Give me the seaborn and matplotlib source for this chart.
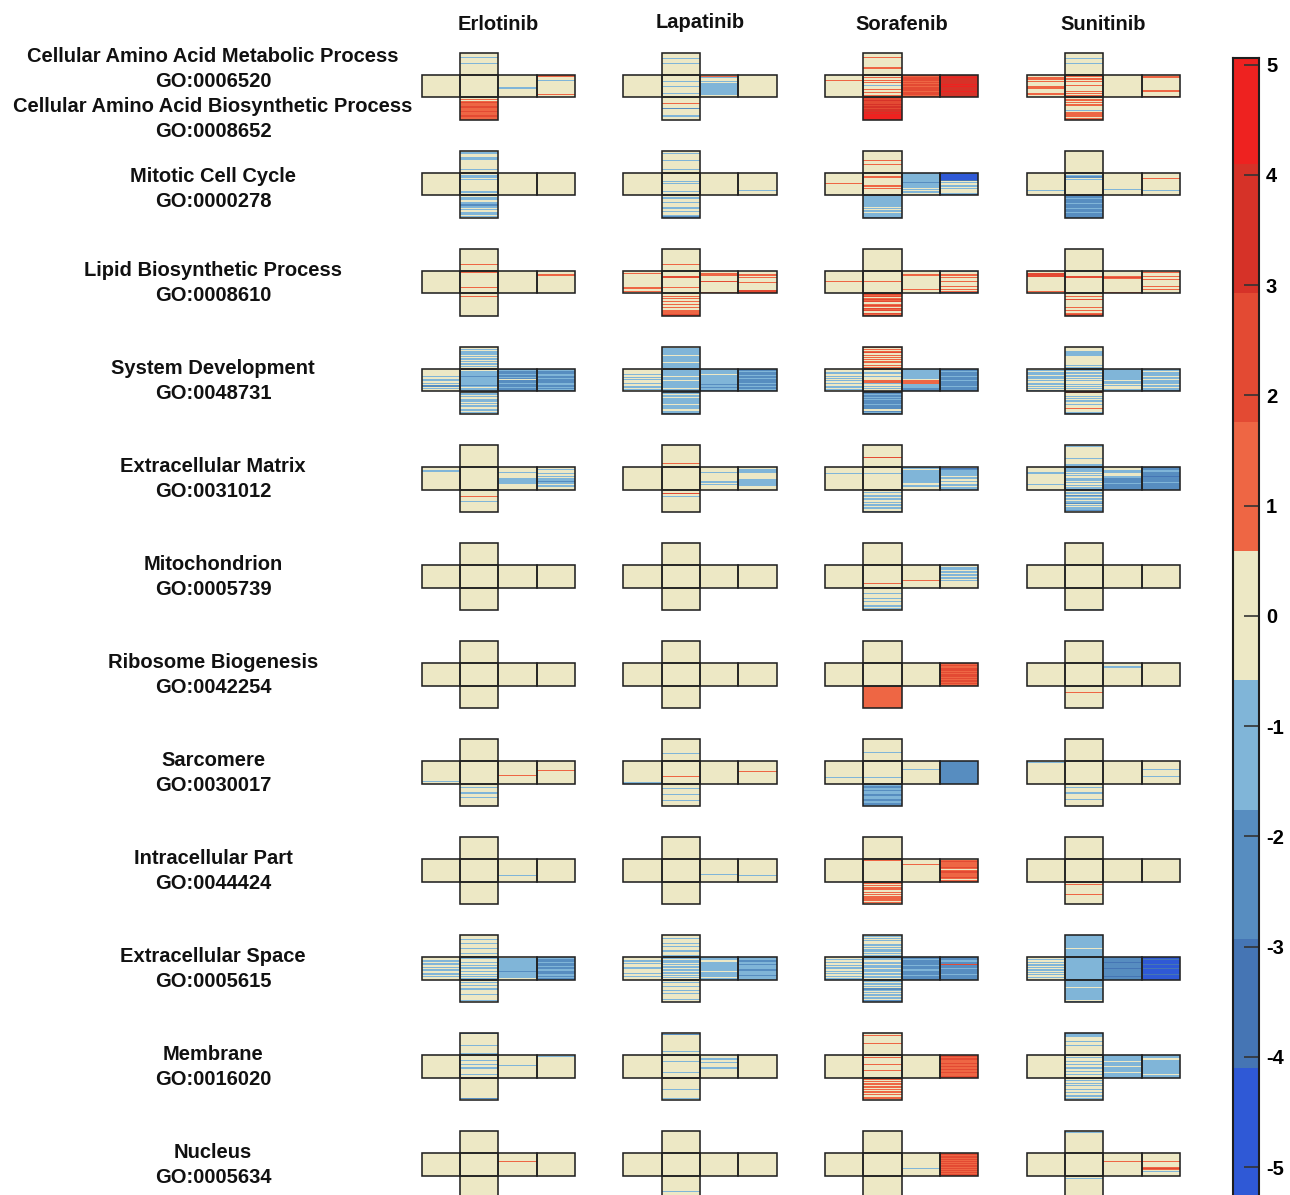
import numpy as np
import matplotlib
matplotlib.use("Agg")
import matplotlib.pyplot as plt
import seaborn as sns
from matplotlib.colors import ListedColormap
from matplotlib.patches import Rectangle

# ---------------------------------------------------------------------------
# Data
# Each GO term / drug cell is an unfolded cube: six faces
# (top, left, centre, right, back, bottom).  Every face is a column of genes
# written top-to-bottom as one character per gene:
#   '0' = no change, '1'..'4' = up-regulated bins, 'a'..'d' = down-regulated bins
# A single character fills the whole face.
# ---------------------------------------------------------------------------
DRUGS = ["Erlotinib", "Lapatinib", "Sorafenib", "Sunitinib"]

TERMS = [
    ["Cellular Amino Acid Metabolic Process", "GO:0006520",
     "Cellular Amino Acid Biosynthetic Process", "GO:0008652"],
    ["Mitotic Cell Cycle", "GO:0000278"],
    ["Lipid Biosynthetic Process", "GO:0008610"],
    ["System Development", "GO:0048731"],
    ["Extracellular Matrix", "GO:0031012"],
    ["Mitochondrion", "GO:0005739"],
    ["Ribosome Biogenesis", "GO:0042254"],
    ["Sarcomere", "GO:0030017"],
    ["Intracellular Part", "GO:0044424"],
    ["Extracellular Space", "GO:0005615"],
    ["Membrane", "GO:0016020"],
    ["Nucleus", "GO:0005634"],
]

ERLOTINIB = [
    ("0000a0000a0000000000", "0", "0", "00000000000a00000000", "1100a000000000000100", "01012111211121112111"),
    ("0aa000aa00000000a000", "0", "00aa0a0000000000aa00", "0", "0", "0aaa00aabaa0a00aa0a0"),
    ("00000000000000100000", "0", "01000000000000100000", "0", "00010000000000000000", "00100000000000000000"),
    ("00a0aaa0a0aa0a0a0a00", "000000a00aa0a0bb0a00", "a0aaaabaaaaaaaba0aaa", "babbabbab0bbabbbabbb", "aabbaabbabbbaabbabab", "0aa0a00aa0a0aa00a0a0"),
    ("0", "000a0000000000000000", "0", "0000a00000aaaaa00000", "00a00a00a0aabaa0aa00", "0000001000a000000000"),
    ("0", "0", "0", "0", "0", "0"),
    ("0", "0", "0", "0", "0", "0"),
    ("0", "000000000000000000a0", "0", "00000000000010000000", "00000000100000000000", "000a0000a000a0000000"),
    ("0", "0", "0", "00000000000000a00000", "0", "0"),
    ("0000a00a0000a000a00a", "000a0aa00a0a00aa0a00", "0a00a00a0aa0a00a0a0a", "0aaaaaaaaaaabaaaaaa0", "aabbabbbabbabbbaabab", "00a00a00a0000a0000a0"),
    ("b0000000000a000000a0", "0", "0000a000a00a00000a00", "000000000a0000000000", "0a000000000000000000", "000000000000000000b0"),
    ("0", "0", "0", "00000001000000000000", "0", "0"),
]

LAPATINIB = [
    ("00000a000a0000000000", "0", "00000a0000a00000a000", "01a00a0aaaaaaaaaaa00", "0", "000001000b000000a000"),
    ("00a00000a0000000a000", "0", "0000000a0a000000a000", "0", "000000000000000a0000", "0aa000a000aa00a00abb"),
    ("00000000000000100000", "00100000000000110010", "00002200000000100000", "00110000020000000001", "00010100001000000222", "00101001010010011122"),
    ("0aaaaaa0aaaaaa0aaaa0", "0000a00a0a00a00aa0a0", "aaaaaa0aaa0aaaaaa0aa", "aaaa0aaaaaaaabaabaab", "bbabbabbabbbabbabbab", "aa0aa0aaaaa0aaaa0aab"),
    ("00000000000000001000", "0", "0", "0000a0000000aa0a0000", "00aaa000000aaaaaa000", "000200a0000000000000"),
    ("0", "0", "0", "0", "0", "0"),
    ("0", "0", "0", "0", "0", "0"),
    ("0000000000000a000000", "0000000000000000000a", "00000000000001000000", "0", "00000000010000000000", "0000a0000a00000a0000"),
    ("0", "0", "0", "0000000000000a000000", "00000000000000a00000", "0"),
    ("000a000a00a000a000a0", "000a0a000aa000a00a00", "0a0aa0a0aa0a0aa0a0a0", "aaa0aaaaaaaa0aaaaa0a", "aaabaabaaaabaaaabaaa", "00a000a00a00a0000a00"),
    ("0b00000000000000a000", "0", "00000a000000000a0000", "000a00a0000a00000000", "0", "0000000000a0000000a0"),
    ("0", "0", "0", "0", "0", "00000000000000a00000"),
]

SORAFENIB = [
    ("00001000000001100000", "00001000000000000000", "001010100a0010010010", "21222121221222122212", "33433333434333433333", "22322232323334344444"),
    ("00000000100010000000", "00000000010000000000", "00010000000101000000", "aaaaaaaabaaaa0a0aa00", "cdddddc0a00a0a0000ab", "aaaaaaaaaa0a0aa0aaab"),
    ("0", "00000000010000000000", "00000000010000000000", "00010000000000001000", "a001010001000100101b", "21201212012102120212"),
    ("10101201010101101010", "000a00a0a0a0a00aa0a0", "000a00a00011a00a0a00", "aaaaaaaaa0111aaaabbb", "bbabbbabbbabbbbabbbb", "bbabbababbbabbbb0bab"),
    ("00000000000200000000", "00000a00000000000000", "00000a00000000000000", "aa0aaaaaaaaaaa00aa00", "0cbaaaaa0aa0a00aa0aa", "00a00aa0a00a0aa0a00a"),
    ("0", "0", "00000000000000001000", "00000000000001000000", "00aa0aa0aa0a0a000000", "00000a000a00a000a0a0"),
    ("0", "0", "0", "0", "21212221212212122121", "11111111111111111111"),
    ("000000000000a0000000", "00000000000000a00000", "00000000000000a00000", "0000000a000000000000", "bbbbbbbbbbbbbbbbbbbb", "aabbaabaabbaaabbabba"),
    ("0", "0", "01000000000000000000", "00001000000000000000", "01211112101211112101", "01010111010101111010"),
    ("0a0a0a00aa0a0aa0a0a0", "00a0a00a0aa0a0a00a0a", "0aa0aa0aaa0aa0aa0aa0", "bbabbbbabbbabbbbabbb", "bbbabb2bbbabbbbabbbb", "0a0aa0a0ba0a0aa0a0ba"),
    ("00100000010000000000", "0", "00100000100001000000", "0", "12121112112121121112", "01010110101011010110"),
    ("0", "0", "0", "0000000000000a000000", "12121212121212121212", "0"),
]

SUNITINIB = [
    ("00000a000a0000000000", "00110100001100001100", "01010100010000101010", "0", "01100000000001100001", "01101011000a01111011"),
    ("0", "000000000000000a0000", "00ab0a00000000000000", "00000000000000a00000", "000010000000000a0000", "bbabbbbabbbabbbabbbb"),
    ("0", "00222000000000000010", "00002200000000000000", "00001210000000000001", "01001001000001001000", "00100200000010010121"),
    ("0000aaaa00000000a0a0", "0a0aa0aaa0a0aa0a0a0a", "0a0a0aa0a0a00a0a0a00", "aaaaaaaaaa0aa0a000aa", "aa0aaa0aa0aaa0aa0aab", "2000a0a0a00a000100ab"),
    ("0a0000000000a0000aa0", "0000aa000000000a0000", "0aaa0a0a00aa0a00a0aa", "000aa000aabbbbabbbbb", "bbbabbbbcbbbbabbbbbb", "a0aa0ba0a0aab0a0aab0"),
    ("0", "0", "0", "0", "0", "0000000000000000000a"),
    ("0", "0", "0", "000a0000000000000000", "0", "00000010000000000000"),
    ("0", "0a000000000000000000", "0", "0", "0000000a00000a000000", "000a0000a00000a00000"),
    ("0", "0", "0", "0", "0", "00100000000100000000"),
    ("aaaaaaaaaaaa0aaaaaaa", "00a0a0aa0a0a0a0a00a0", "aaaaaaaaaaaaaaaaaaaa", "bbbbcbbbbbcbbbbbbcbb", "ddcdddcdddcddddcdddd", "aaaaaaa0aaaaaaaaaa0a"),
    ("aaaa000a000a00000000", "0", "00a00a00a00a00a00a00", "aaaaa0aaaa0aaaa0aaaa", "aaa0aaaaaaaaaaaaa0aa", "00a00a0a00a00a00a0a0"),
    ("0a000000000000000000", "0", "0", "00000001000000000000", "0000000100001210a000", "00a00000000000000000"),
]

VALUES_BY_DRUG = [ERLOTINIB, LAPATINIB, SORAFENIB, SUNITINIB]

LEVEL_CODES = {"0": 0, "1": 1, "2": 2, "3": 3, "4": 4,
               "a": -1, "b": -2, "c": -3, "d": -4}

# nine equal-width colour bins spanning the value range
VMAX = 5.27
BIN_EDGES = np.linspace(-VMAX, VMAX, 10)
BIN_WIDTH = BIN_EDGES[1] - BIN_EDGES[0]
BIN_COLORS = ["#2f59d6", "#4575b4", "#578dc0", "#80b5d8", "#ede8c5",
              "#ee6644", "#e34a33", "#d63228", "#ee2220"]
NEUTRAL = BIN_COLORS[4]
cmap = ListedColormap(BIN_COLORS)

# ---------------------------------------------------------------------------
# Layout (pixels of a 1290 x 1195 canvas)
# ---------------------------------------------------------------------------
W, H = 1290, 1195
CROSS_X0 = 421.7
CROSS_DX = 201.6
CROSS_W = 153.5
CROSS_Y0 = 52.7
CROSS_DY = 98.0
CROSS_H = 67.2
LABEL_Y = [94, 189, 283, 381, 479, 577, 675, 773, 871, 969, 1067, 1165]
TITLE_Y = [24, 22, 24, 24]
FONT_SIZE = 14.5

# face -> (block row, block column) in the unfolded cube
FACE_SLOTS = [(0, 1), (1, 0), (1, 1), (1, 2), (1, 3), (2, 1)]
ROWS_PER_FACE = 20

plt.rcParams["font.family"] = ["Liberation Sans", "DejaVu Sans"]
fig = plt.figure(figsize=(W / 100, H / 100), dpi=100)


def px_axes(x, y, w, h):
    return fig.add_axes([x / W, 1 - (y + h) / H, w / W, h / H])


def cube_matrix(faces):
    mat = np.full((3 * ROWS_PER_FACE, 4), np.nan)
    for (brow, bcol), genes in zip(FACE_SLOTS, faces):
        idx = (np.arange(ROWS_PER_FACE) * len(genes)) // ROWS_PER_FACE
        vals = np.array([LEVEL_CODES[genes[i]] for i in idx]) * BIN_WIDTH
        mat[brow * ROWS_PER_FACE:(brow + 1) * ROWS_PER_FACE, bcol] = vals
    return mat


for i in range(len(TERMS)):
    for j, drug_values in enumerate(VALUES_BY_DRUG):
        ax = px_axes(CROSS_X0 + j * CROSS_DX, CROSS_Y0 + i * CROSS_DY,
                     CROSS_W, CROSS_H)
        mat = cube_matrix(drug_values[i])
        # neutral backing under every face so stripe seams stay invisible
        for brow, bcol in FACE_SLOTS:
            ax.add_patch(Rectangle((bcol, brow * ROWS_PER_FACE), 1, ROWS_PER_FACE,
                                   fc=NEUTRAL, ec="none", zorder=0))
        sns.heatmap(mat, ax=ax, cmap=cmap, vmin=-VMAX, vmax=VMAX, cbar=False,
                    mask=np.isnan(mat), xticklabels=False, yticklabels=False,
                    linewidths=0, linecolor="none", antialiased=True)
        for brow, bcol in FACE_SLOTS:
            ax.add_patch(Rectangle((bcol, brow * ROWS_PER_FACE), 1, ROWS_PER_FACE,
                                   fill=False, ec="#222222", lw=1.15,
                                   clip_on=False, zorder=5))
        ax.set_axis_off()

# drug titles
for j, drug in enumerate(DRUGS):
    cx = CROSS_X0 + j * CROSS_DX + CROSS_W / 2
    fig.text(cx / W, 1 - TITLE_Y[j] / H, drug, ha="center", va="center",
             fontsize=FONT_SIZE, fontweight="bold", color="#111111")

# GO term labels
LINE_GAP = 25.3
for i, lines in enumerate(TERMS):
    n = len(lines)
    for k, line in enumerate(lines):
        y = LABEL_Y[i] + LINE_GAP * (k - (n - 1) / 2)
        fig.text(213 / W, 1 - y / H, line, ha="center", va="center",
                 fontsize=FONT_SIZE, fontweight="bold", color="#111111")

# colour bar
CB_TOP = 5.06
cax = px_axes(1233, 58, 26, 1197 - 58)
for k in range(len(BIN_COLORS)):
    cax.axhspan(BIN_EDGES[k], BIN_EDGES[k + 1], color=BIN_COLORS[k], lw=0)
cax.set_ylim(-VMAX, CB_TOP)
cax.set_xlim(0, 1)
cax.set_xticks([])
cax.yaxis.tick_right()
cax.set_yticks(np.arange(-5, 6))
cax.set_yticklabels([str(v) for v in range(-5, 6)], fontsize=FONT_SIZE,
                    fontweight="bold")
cax.tick_params(axis="y", direction="in", length=11, width=1.2,
                color="#333333", pad=5)
for sp in cax.spines.values():
    sp.set_linewidth(1.5)
    sp.set_color("#1e1e1e")

fig.savefig("out.png", dpi=100, facecolor="white")
